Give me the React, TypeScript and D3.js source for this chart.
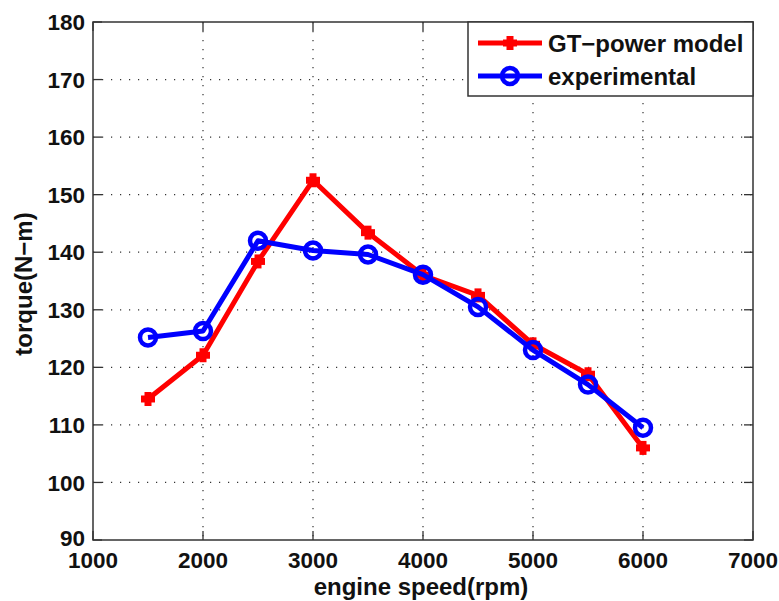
import React from "react";
import * as d3 from "d3";

const speeds = [1500, 2000, 2500, 3000, 3500, 4000, 4500, 5000, 5500, 6000];
const gtPower = [114.5, 122.1, 138.4, 152.5, 143.4, 136.0, 132.5, 124.0, 118.8, 106.0];
const experimental = [125.2, 126.3, 142.0, 140.3, 139.6, 136.1, 130.5, 123.0, 117.0, 109.5];
const xTicks = [1000, 2000, 3000, 4000, 5000, 6000, 7000];
const yTicks = [90, 100, 110, 120, 130, 140, 150, 160, 170, 180];

const W = 779;
const H = 601;
const M = { left: 93, right: 753, top: 22, bottom: 540 };
const FONT = "Arial, 'Liberation Sans', Helvetica, sans-serif";

export default function App() {
  const x = d3.scaleLinear().domain([1000, 7000]).range([M.left, M.right]);
  const y = d3.scaleLinear().domain([90, 180]).range([M.bottom, M.top]);
  const line = d3
    .line<number>()
    .x((_, i) => x(speeds[i]))
    .y((d) => y(d));

  const tickLen = 9;
  const plus = (cx: number, cy: number, key: string) => (
    <g key={key}>
      <line x1={cx - 7} x2={cx + 7} y1={cy} y2={cy} stroke="#ff0000" strokeWidth={7} />
      <line x1={cx} x2={cx} y1={cy - 7} y2={cy + 7} stroke="#ff0000" strokeWidth={7} />
    </g>
  );

  return (
    <svg
      width={W}
      height={H}
      style={{ position: "absolute", left: 0, top: 0, background: "#fff" }}
      fontFamily={FONT}
    >
      <rect x={0} y={0} width={W} height={H} fill="#fff" />
      {/* dotted grid */}
      {xTicks.slice(1, -1).map((t) => (
        <line
          key={"gx" + t}
          x1={x(t)}
          x2={x(t)}
          y1={M.top}
          y2={M.bottom}
          stroke="#333"
          strokeWidth={1.2}
          strokeDasharray="1.2 7.8"
        />
      ))}
      {yTicks.slice(1, -1).map((t) => (
        <line
          key={"gy" + t}
          x1={M.left}
          x2={M.right}
          y1={y(t)}
          y2={y(t)}
          stroke="#333"
          strokeWidth={1.2}
          strokeDasharray="1.2 7.8"
        />
      ))}
      {/* tick marks on all four sides */}
      {xTicks.map((t) => (
        <g key={"tx" + t} stroke="#333" strokeWidth={1.3}>
          <line x1={x(t)} x2={x(t)} y1={M.bottom} y2={M.bottom - tickLen} />
          <line x1={x(t)} x2={x(t)} y1={M.top} y2={M.top + tickLen} />
        </g>
      ))}
      {yTicks.map((t) => (
        <g key={"ty" + t} stroke="#333" strokeWidth={1.3}>
          <line x1={M.left} x2={M.left + tickLen} y1={y(t)} y2={y(t)} />
          <line x1={M.right} x2={M.right - tickLen} y1={y(t)} y2={y(t)} />
        </g>
      ))}
      <rect
        x={M.left}
        y={M.top}
        width={M.right - M.left}
        height={M.bottom - M.top}
        fill="none"
        stroke="#333"
        strokeWidth={1.5}
      />
      {/* tick labels */}
      {yTicks.map((t) => (
        <text
          key={"ly" + t}
          x={M.left - 8}
          y={t === 90 ? y(t) - 2 : y(t)}
          dy="0.36em"
          textAnchor="end"
          fontSize={22.5}
          fontWeight="bold"
          fill="#111"
        >
          {t}
        </text>
      ))}
      {xTicks.map((t) => (
        <text
          key={"lx" + t}
          x={x(t)}
          y={568}
          textAnchor="middle"
          fontSize={22.5}
          fontWeight="bold"
          fill="#111"
        >
          {t}
        </text>
      ))}
      {/* axis titles */}
      <text
        x={421}
        y={595}
        textAnchor="middle"
        fontSize={24}
        fontWeight="bold"
        fill="#111"
      >
        engine speed(rpm)
      </text>
      <text
        transform={`translate(32, 284) rotate(-90)`}
        textAnchor="middle"
        fontSize={24}
        fontWeight="bold"
        fill="#111"
      >
        torque(N−m)
      </text>
      {/* GT-power model series */}
      <path d={line(gtPower) ?? ""} fill="none" stroke="#ff0000" strokeWidth={5} strokeLinejoin="round" />
      {gtPower.map((v, i) => plus(x(speeds[i]), y(v), "p" + i))}
      {/* experimental series */}
      <path d={line(experimental) ?? ""} fill="none" stroke="#0000ff" strokeWidth={5} strokeLinejoin="round" />
      {experimental.map((v, i) => (
        <circle key={"c" + i} cx={x(speeds[i])} cy={y(v)} r={8} fill="none" stroke="#0000ff" strokeWidth={4.5} />
      ))}
      {/* legend */}
      <g>
        <rect x={468} y={M.top} width={M.right - 468} height={74} fill="#fff" stroke="#333" strokeWidth={1.5} />
        <line x1={478} x2={542} y1={43} y2={43} stroke="#ff0000" strokeWidth={5} />
        {plus(510, 43, "lp")}
        <text x={548} y={43} dy="0.36em" fontSize={24} fontWeight="bold" fill="#111">
          GT−power model
        </text>
        <line x1={478} x2={542} y1={76} y2={76} stroke="#0000ff" strokeWidth={5} />
        <circle cx={510} cy={76} r={8} fill="none" stroke="#0000ff" strokeWidth={4.5} />
        <text x={548} y={76} dy="0.36em" fontSize={24} fontWeight="bold" fill="#111">
          experimental
        </text>
      </g>
    </svg>
  );
}
